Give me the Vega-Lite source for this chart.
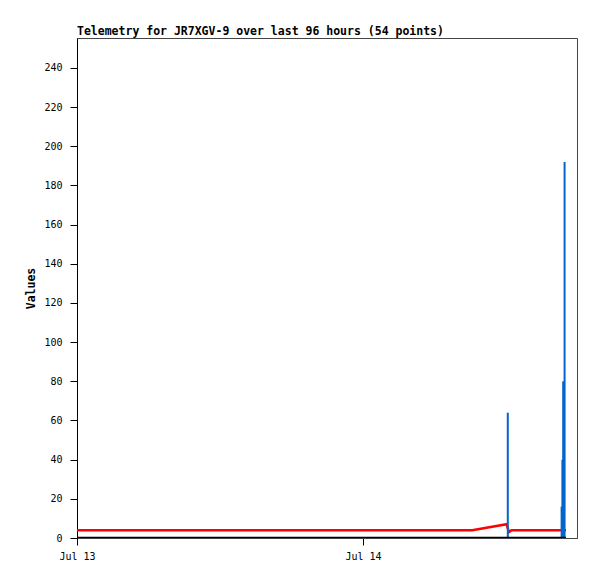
{
  "$schema": "https://vega.github.io/schema/vega-lite/v6.json",
  "width": 500,
  "height": 500,
  "autosize": {"type": "none"},
  "padding": {"left": 77, "top": 38, "right": 20, "bottom": 41},
  "background": "white",
  "title": {
    "text": "Telemetry for JR7XGV-9 over last 96 hours (54 points)",
    "anchor": "start",
    "frame": "group",
    "font": "DejaVu Sans Mono",
    "fontSize": 11.5,
    "fontWeight": "bold",
    "color": "black",
    "offset": 1
  },
  "config": {
    "view": {"stroke": "#444", "strokeWidth": 1},
    "axis": {
      "labelFont": "DejaVu Sans Mono",
      "labelFontSize": 10,
      "labelColor": "black",
      "titleFont": "DejaVu Sans Mono",
      "titleFontSize": 11.5,
      "titleFontWeight": "bold",
      "titleColor": "black",
      "tickColor": "black",
      "domainColor": "black",
      "grid": false
    }
  },
  "datasets": {
    "red": [
      {"time": "2024-07-13T00:00:00Z", "value": 4},
      {"time": "2024-07-13T03:00:00Z", "value": 4},
      {"time": "2024-07-13T06:00:00Z", "value": 4},
      {"time": "2024-07-13T09:00:00Z", "value": 4},
      {"time": "2024-07-13T12:00:00Z", "value": 4},
      {"time": "2024-07-13T15:00:00Z", "value": 4},
      {"time": "2024-07-13T18:00:00Z", "value": 4},
      {"time": "2024-07-13T21:00:00Z", "value": 4},
      {"time": "2024-07-14T00:00:00Z", "value": 4},
      {"time": "2024-07-14T03:00:00Z", "value": 4},
      {"time": "2024-07-14T06:00:00Z", "value": 4},
      {"time": "2024-07-14T09:10:00Z", "value": 4},
      {"time": "2024-07-14T12:03:00Z", "value": 7},
      {"time": "2024-07-14T12:15:00Z", "value": 3},
      {"time": "2024-07-14T12:28:00Z", "value": 4},
      {"time": "2024-07-14T14:00:00Z", "value": 4},
      {"time": "2024-07-14T16:00:00Z", "value": 4},
      {"time": "2024-07-14T17:02:00Z", "value": 4}
    ],
    "blue": [
      {"time": "2024-07-14T12:09:00Z", "value": 64},
      {"time": "2024-07-14T16:40:00Z", "value": 16},
      {"time": "2024-07-14T16:44:00Z", "value": 40},
      {"time": "2024-07-14T16:48:00Z", "value": 80},
      {"time": "2024-07-14T16:55:00Z", "value": 192}
    ],
    "zero": [
      {"time": "2024-07-13T00:00:00Z", "value": 0},
      {"time": "2024-07-14T17:02:00Z", "value": 0}
    ]
  },
  "encoding": {
    "x": {
      "field": "time",
      "type": "temporal",
      "scale": {
        "type": "utc",
        "domain": [
          {"year": 2024, "month": 7, "date": 13, "utc": true},
          {"year": 2024, "month": 7, "date": 14, "hours": 17, "minutes": 57, "seconds": 30, "utc": true}
        ]
      },
      "axis": {
        "title": null,
        "labelExpr": "utcFormat(datum.value, '%b %d')",
        "values": [
          {"year": 2024, "month": 7, "date": 13, "utc": true},
          {"year": 2024, "month": 7, "date": 14, "utc": true}
        ],
        "tickSize": 7,
        "labelPadding": 6,
        "domainColor": "#444",
        "labelFlush": false
      }
    },
    "y": {
      "field": "value",
      "type": "quantitative",
      "scale": {"domain": [0, 255.3], "nice": false, "zero": true},
      "axis": {
        "title": "Values",
        "values": [0, 20, 40, 60, 80, 100, 120, 140, 160, 180, 200, 220, 240],
        "tickSize": 7,
        "labelPadding": 8,
        "titlePadding": 7
      }
    }
  },
  "layer": [
    {
      "data": {"name": "red"},
      "mark": {"type": "line", "color": "#ff0000", "strokeWidth": 2.5, "clip": true, "interpolate": "linear"}
    },
    {
      "data": {"name": "blue"},
      "mark": {"type": "rule", "color": "#0066cc", "strokeWidth": 2, "clip": true},
      "encoding": {"y2": {"datum": 0}}
    },
    {
      "data": {"name": "zero"},
      "mark": {"type": "line", "color": "black", "strokeWidth": 2.5, "clip": true}
    }
  ]
}
